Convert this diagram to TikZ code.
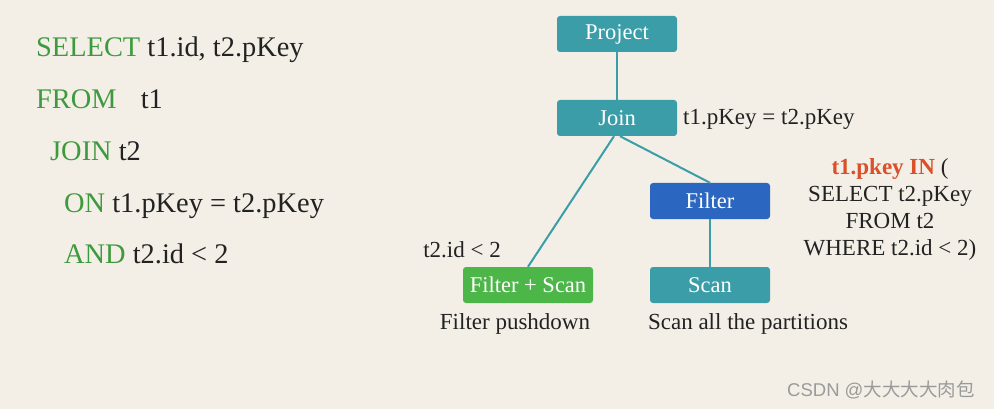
\documentclass[tikz,border=0pt]{standalone}
\usepackage{fontspec}
\setmainfont{Liberation Serif}
\newfontfamily\cjkfont{Noto Sans CJK SC}
\newfontfamily\wmfont{Liberation Sans}
\definecolor{bg}{HTML}{F3EFE6}
\definecolor{teal}{HTML}{3A9DA8}
\definecolor{fblue}{HTML}{2B67C0}
\definecolor{fgreen}{HTML}{4CB648}
\definecolor{kw}{HTML}{3E9A3E}
\definecolor{txt}{HTML}{222222}
\definecolor{hl}{HTML}{D9502A}
\definecolor{wm}{HTML}{9A9A9A}
\tikzset{
  sql/.style={anchor=base west, inner sep=0pt, text=txt, font=\fontsize{28.4}{32}\selectfont},
  opbox/.style={rounded corners=3pt, minimum width=120pt, minimum height=36pt, inner sep=0pt, text=white, font=\fontsize{22.5}{26}\selectfont},
  lbl/.style={inner sep=0pt, text=txt, font=\fontsize{23}{27}\selectfont},
  edge/.style={draw=teal, line width=2pt}
}
\begin{document}
\begin{tikzpicture}[x=1pt,y=-1pt]
\fill[bg] (0,0) rectangle (994,409);
\useasboundingbox (0,0) rectangle (994,409);
% SQL
\node[sql] (s1) at (36,57) {\textcolor{kw}{SELECT} t1.id, t2.pKey};
\node[sql] (s2) at (36,109) {\textcolor{kw}{FROM}\hspace{0.6em} t1};
\node[sql] (s3) at (50,161) {\textcolor{kw}{JOIN} t2};
\node[sql] (s4) at (64,212) {\textcolor{kw}{ON} t1.pKey = t2.pKey};
\node[sql] (s5) at (64,263) {\textcolor{kw}{AND} t2.id < 2};
% tree
\node[opbox, fill=teal] (project) at (617,34) {Project};
\node[opbox, fill=teal] (join) at (617,118) {Join};
\node[opbox, fill=fblue] (filter) at (710,201) {Filter};
\node[opbox, fill=fgreen, minimum width=130pt] (fscan) at (528,285) {Filter + Scan};
\node[opbox, fill=teal] (scan) at (710,285) {Scan};
\draw[edge] (project) -- (join);
\draw[edge] (join.south) ++(-3,0) coordinate (j1) -- (fscan.north);
\draw[edge] (join.south) ++(3,0) coordinate (j2) -- (filter.north);
\draw[edge] (filter) -- (scan);
\node[lbl, anchor=west] (jl) at (683,119) {t1.pKey = t2.pKey};
\node[lbl, anchor=east] (tl) at (501,250) {t2.id < 2};
\node[lbl] (fp) at (515,324) {Filter pushdown};
\node[lbl] (sp) at (748,324) {Scan all the partitions};
\node[lbl, align=center, font=\fontsize{23}{27}\selectfont] (sub) at (890,209)
  {\textcolor{hl}{\bfseries t1.pkey IN} (\\SELECT t2.pKey\\FROM t2\\WHERE t2.id < 2)};
\node[inner sep=0pt, text=wm, anchor=west, font=\wmfont\fontsize{18.5}{22}\selectfont] (wmk) at (787,390) {CSDN @{\cjkfont 大大大大肉包}};
\end{tikzpicture}
\end{document}
